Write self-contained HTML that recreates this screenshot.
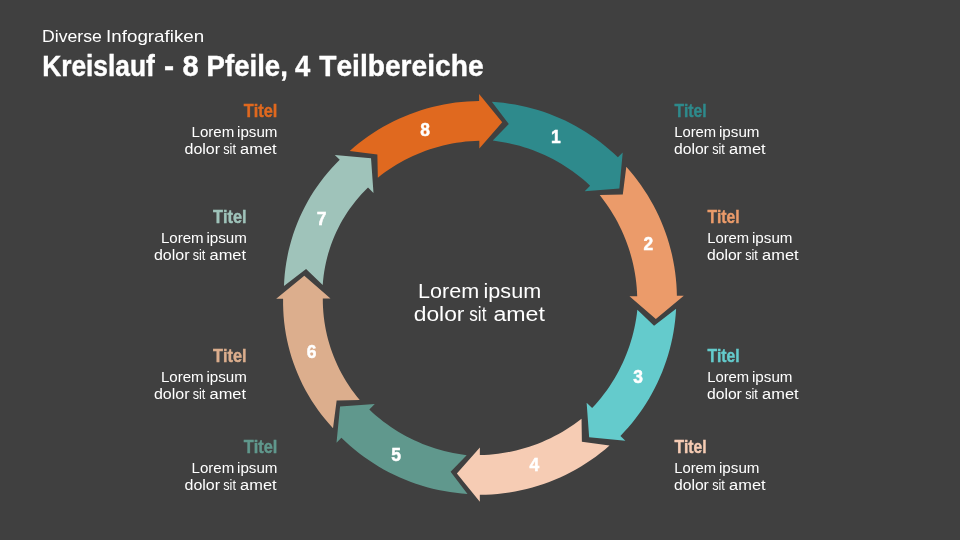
<!DOCTYPE html>
<html lang="de">
<head>
<meta charset="utf-8">
<title>Kreislauf - 8 Pfeile, 4 Teilbereiche</title>
<style>
html,body{margin:0;padding:0;background:#404040;}
body{width:960px;height:540px;overflow:hidden;}
svg{display:block;font-family:'Liberation Sans',sans-serif;will-change:transform;font-kerning:none;}
</style>
</head>
<body>
<svg xmlns="http://www.w3.org/2000/svg" width="960" height="540" viewBox="0 0 960 540">
<rect width="960" height="540" fill="#404040"/>
<path d="M491.82 101.86 L497.66 102.27 L503.49 102.87 L509.29 103.63 L515.08 104.57 L520.83 105.68 L526.54 106.97 L532.22 108.42 L537.85 110.04 L543.43 111.83 L548.96 113.78 L554.43 115.90 L559.83 118.18 L565.16 120.62 L570.42 123.22 L575.59 125.98 L580.69 128.88 L585.69 131.94 L590.60 135.15 L595.42 138.50 L600.13 142.00 L604.74 145.63 L609.24 149.40 L613.62 153.31 L617.89 157.34 L622.72 152.41 L619.37 188.62 L584.69 191.18 L590.09 185.68 L586.73 182.61 L583.30 179.62 L579.79 176.74 L576.21 173.94 L572.55 171.25 L568.83 168.66 L565.03 166.16 L561.18 163.77 L557.26 161.49 L553.28 159.31 L549.24 157.24 L545.15 155.27 L541.01 153.42 L536.81 151.68 L532.57 150.05 L528.29 148.53 L523.97 147.13 L519.61 145.85 L515.21 144.68 L510.78 143.63 L506.32 142.70 L501.83 141.88 L497.32 141.19 L492.79 140.62 L508.79 123.97Z" fill="#2E8A8C"/>
<path d="M626.30 166.87 L630.18 171.30 L633.92 175.85 L637.53 180.51 L641.00 185.27 L644.32 190.14 L647.50 195.11 L650.52 200.17 L653.40 205.31 L656.11 210.55 L658.67 215.86 L661.07 221.25 L663.31 226.71 L665.38 232.23 L667.29 237.81 L669.03 243.45 L670.60 249.14 L671.99 254.87 L673.22 260.65 L674.27 266.46 L675.14 272.30 L675.84 278.16 L676.37 284.04 L676.72 289.93 L676.89 295.84 L683.79 295.77 L655.84 319.02 L629.49 296.33 L637.19 296.25 L636.99 291.68 L636.67 287.12 L636.22 282.57 L635.65 278.03 L634.96 273.51 L634.14 269.02 L633.21 264.55 L632.15 260.10 L630.98 255.69 L629.69 251.31 L628.28 246.97 L626.75 242.67 L625.11 238.41 L623.35 234.19 L621.48 230.02 L619.49 225.90 L617.40 221.84 L615.19 217.83 L612.88 213.88 L610.46 209.99 L607.93 206.17 L605.29 202.41 L602.56 198.72 L599.72 195.10 L622.81 194.52Z" fill="#EB9B6A"/>
<path d="M676.10 308.69 L675.71 314.59 L675.14 320.46 L674.40 326.32 L673.47 332.16 L672.38 337.97 L671.11 343.74 L669.66 349.47 L668.04 355.15 L666.26 360.79 L664.30 366.37 L662.18 371.88 L659.89 377.34 L657.44 382.72 L654.83 388.02 L652.06 393.25 L649.13 398.39 L646.05 403.44 L642.82 408.40 L639.44 413.26 L635.92 418.01 L632.25 422.66 L628.45 427.19 L624.51 431.61 L620.44 435.91 L625.36 440.75 L589.16 437.36 L586.63 402.69 L592.12 408.08 L595.23 404.70 L598.24 401.24 L601.15 397.70 L603.97 394.09 L606.69 390.40 L609.30 386.64 L611.81 382.81 L614.22 378.92 L616.52 374.96 L618.71 370.94 L620.80 366.87 L622.77 362.74 L624.63 358.55 L626.37 354.32 L628.00 350.04 L629.52 345.71 L630.92 341.35 L632.20 336.94 L633.36 332.50 L634.40 328.03 L635.32 323.53 L636.12 319.00 L636.79 314.44 L637.35 309.87 L654.08 325.78Z" fill="#64CBCC"/>
<path d="M609.50 445.56 L605.02 449.40 L600.42 453.10 L595.72 456.66 L590.91 460.09 L586.00 463.36 L581.00 466.49 L575.90 469.46 L570.71 472.28 L565.45 474.95 L560.10 477.45 L554.68 479.80 L549.19 481.98 L543.64 483.99 L538.03 485.84 L532.36 487.52 L526.65 489.02 L520.89 490.36 L515.10 491.52 L509.27 492.51 L503.42 493.32 L497.54 493.95 L491.65 494.41 L485.74 494.70 L479.83 494.80 L479.82 501.70 L456.88 473.48 L479.87 447.40 L479.86 455.10 L484.44 454.95 L489.02 454.68 L493.58 454.28 L498.13 453.76 L502.66 453.12 L507.16 452.35 L511.65 451.47 L516.11 450.46 L520.54 449.34 L524.94 448.09 L529.30 446.73 L533.63 445.24 L537.91 443.65 L542.15 441.93 L546.35 440.10 L550.49 438.16 L554.58 436.11 L558.62 433.94 L562.60 431.66 L566.52 429.28 L570.38 426.79 L574.17 424.19 L577.89 421.50 L581.54 418.69 L581.88 441.79Z" fill="#F6CCB4"/>
<path d="M467.50 493.90 L461.64 493.46 L455.80 492.85 L449.99 492.06 L444.19 491.09 L438.43 489.96 L432.71 488.65 L427.02 487.17 L421.38 485.52 L415.79 483.71 L410.26 481.72 L404.79 479.58 L399.39 477.27 L394.06 474.80 L388.80 472.17 L383.62 469.38 L378.53 466.44 L373.52 463.35 L368.62 460.12 L363.81 456.73 L359.10 453.20 L354.50 449.54 L350.01 445.74 L345.63 441.80 L341.38 437.74 L336.52 442.64 L340.06 406.45 L374.75 404.07 L369.33 409.54 L372.67 412.64 L376.10 415.65 L379.60 418.56 L383.18 421.38 L386.83 424.10 L390.55 426.72 L394.34 429.23 L398.20 431.65 L402.12 433.96 L406.10 436.16 L410.14 438.25 L414.23 440.24 L418.38 442.12 L422.57 443.88 L426.81 445.53 L431.10 447.07 L435.43 448.49 L439.80 449.79 L444.20 450.98 L448.64 452.05 L453.10 453.00 L457.60 453.84 L462.12 454.55 L466.66 455.13 L450.60 471.73Z" fill="#60988D"/>
<path d="M333.02 428.17 L329.05 423.80 L325.21 419.30 L321.53 414.68 L317.99 409.94 L314.60 405.09 L311.37 400.13 L308.29 395.06 L305.39 389.90 L302.64 384.64 L300.07 379.30 L297.67 373.87 L295.45 368.37 L293.40 362.80 L291.53 357.17 L289.85 351.48 L288.35 345.74 L287.03 339.96 L285.90 334.14 L284.96 328.28 L284.21 322.40 L283.65 316.50 L283.28 310.59 L283.09 304.68 L283.10 298.76 L276.20 298.79 L304.30 275.70 L330.50 298.55 L322.80 298.59 L322.85 303.17 L323.03 307.75 L323.34 312.33 L323.80 316.90 L324.38 321.45 L325.10 325.98 L325.95 330.49 L326.94 334.98 L328.06 339.43 L329.30 343.85 L330.68 348.24 L332.19 352.58 L333.82 356.87 L335.58 361.12 L337.47 365.31 L339.48 369.45 L341.61 373.52 L343.86 377.54 L346.22 381.48 L348.70 385.35 L351.30 389.15 L354.00 392.87 L356.82 396.51 L359.74 400.07 L336.65 400.53Z" fill="#DCAE8D"/>
<path d="M283.96 286.08 L284.25 280.21 L284.73 274.35 L285.40 268.50 L286.25 262.68 L287.29 256.88 L288.51 251.11 L289.91 245.39 L291.50 239.71 L293.27 234.08 L295.21 228.51 L297.34 223.00 L299.63 217.56 L302.10 212.19 L304.74 206.91 L307.55 201.72 L310.51 196.61 L313.64 191.61 L316.93 186.70 L320.37 181.91 L323.96 177.22 L327.69 172.66 L331.57 168.22 L335.58 163.90 L339.73 159.72 L334.81 154.88 L371.02 158.31 L373.50 192.98 L368.01 187.58 L364.77 190.80 L361.62 194.11 L358.58 197.52 L355.64 201.03 L352.81 204.63 L350.09 208.32 L347.49 212.09 L345.00 215.94 L342.63 219.86 L340.38 223.86 L338.26 227.93 L336.26 232.06 L334.39 236.25 L332.65 240.50 L331.04 244.80 L329.57 249.15 L328.23 253.54 L327.03 257.97 L325.96 262.43 L325.03 266.92 L324.24 271.44 L323.59 275.98 L323.09 280.54 L322.72 285.11 L306.07 269.11Z" fill="#9FC3BA"/>
<path d="M349.73 150.92 L354.19 147.06 L358.77 143.33 L363.45 139.74 L368.24 136.30 L373.13 133.00 L378.12 129.84 L383.20 126.84 L388.37 123.99 L393.63 121.30 L398.96 118.77 L404.37 116.40 L409.85 114.19 L415.39 112.15 L420.99 110.27 L426.65 108.56 L432.35 107.02 L438.10 105.66 L443.89 104.47 L449.71 103.45 L455.56 102.61 L461.43 101.94 L467.32 101.45 L473.23 101.14 L479.14 101.00 L479.11 94.10 L502.20 122.20 L479.35 148.40 L479.31 140.70 L474.73 140.88 L470.16 141.17 L465.60 141.59 L461.06 142.14 L456.53 142.80 L452.03 143.59 L447.55 144.50 L443.09 145.53 L438.67 146.68 L434.27 147.95 L429.92 149.33 L425.60 150.84 L421.32 152.46 L417.09 154.20 L412.91 156.05 L408.77 158.01 L404.69 160.09 L400.67 162.27 L396.70 164.57 L392.79 166.97 L388.95 169.48 L385.17 172.10 L381.47 174.82 L377.83 177.64 L377.37 154.55Z" fill="#E0691F"/>
<text x="550.95" y="143.00" font-size="18.6" font-weight="bold" fill="#fff" stroke="#fff" stroke-width="0.5" textLength="9.7" lengthAdjust="spacingAndGlyphs">1</text>
<text x="643.55" y="250.00" font-size="18.6" font-weight="bold" fill="#fff" stroke="#fff" stroke-width="0.5" textLength="9.7" lengthAdjust="spacingAndGlyphs">2</text>
<text x="633.25" y="383.00" font-size="18.6" font-weight="bold" fill="#fff" stroke="#fff" stroke-width="0.5" textLength="9.7" lengthAdjust="spacingAndGlyphs">3</text>
<text x="529.45" y="471.00" font-size="18.6" font-weight="bold" fill="#fff" stroke="#fff" stroke-width="0.5" textLength="9.7" lengthAdjust="spacingAndGlyphs">4</text>
<text x="391.25" y="461.00" font-size="18.6" font-weight="bold" fill="#fff" stroke="#fff" stroke-width="0.5" textLength="9.7" lengthAdjust="spacingAndGlyphs">5</text>
<text x="306.65" y="358.00" font-size="18.6" font-weight="bold" fill="#fff" stroke="#fff" stroke-width="0.5" textLength="9.7" lengthAdjust="spacingAndGlyphs">6</text>
<text x="316.65" y="225.00" font-size="18.6" font-weight="bold" fill="#fff" stroke="#fff" stroke-width="0.5" textLength="9.7" lengthAdjust="spacingAndGlyphs">7</text>
<text x="420.15" y="136.00" font-size="18.6" font-weight="bold" fill="#fff" stroke="#fff" stroke-width="0.5" textLength="9.7" lengthAdjust="spacingAndGlyphs">8</text>
<text y="42.00" font-size="17.0" font-weight="normal" fill="#fff"><tspan x="42.05" textLength="59.83" lengthAdjust="spacingAndGlyphs">Diverse</tspan> <tspan x="106.07" textLength="98.15" lengthAdjust="spacingAndGlyphs">Infografiken</tspan></text>
<text y="76.00" font-size="29" font-weight="bold" fill="#fff" stroke="#fff" stroke-width="0.4"><tspan x="42.14" textLength="112.71" lengthAdjust="spacingAndGlyphs">Kreislauf</tspan> <tspan x="164.12" textLength="10.10" lengthAdjust="spacingAndGlyphs">-</tspan> <tspan x="182.48" textLength="16.11" lengthAdjust="spacingAndGlyphs">8</tspan> <tspan x="206.55" textLength="81.29" lengthAdjust="spacingAndGlyphs">Pfeile,</tspan> <tspan x="294.88" textLength="15.26" lengthAdjust="spacingAndGlyphs">4</tspan> <tspan x="319.28" textLength="164.28" lengthAdjust="spacingAndGlyphs">Teilbereiche</tspan></text>
<text y="298.00" font-size="20" font-weight="normal" fill="#fff"><tspan x="418.03" textLength="61.09" lengthAdjust="spacingAndGlyphs">Lorem</tspan> <tspan x="483.56" textLength="57.57" lengthAdjust="spacingAndGlyphs">ipsum</tspan></text>
<text y="321.00" font-size="20" font-weight="normal" fill="#fff"><tspan x="413.74" textLength="50.74" lengthAdjust="spacingAndGlyphs">dolor</tspan> <tspan x="469.32" textLength="17.10" lengthAdjust="spacingAndGlyphs">sit</tspan> <tspan x="493.41" textLength="51.55" lengthAdjust="spacingAndGlyphs">amet</tspan></text>
<text y="117.00" font-size="17.6" font-weight="bold" fill="#E0691F" stroke="#E0691F" stroke-width="0.4"><tspan x="243.72" textLength="33.54" lengthAdjust="spacingAndGlyphs">Titel</tspan></text>
<text y="137.00" font-size="14" font-weight="normal" fill="#fff"><tspan x="191.56" textLength="42.73" lengthAdjust="spacingAndGlyphs">Lorem</tspan> <tspan x="237.09" textLength="40.41" lengthAdjust="spacingAndGlyphs">ipsum</tspan></text>
<text y="154.00" font-size="14" font-weight="normal" fill="#fff"><tspan x="184.53" textLength="35.54" lengthAdjust="spacingAndGlyphs">dolor</tspan> <tspan x="223.25" textLength="12.64" lengthAdjust="spacingAndGlyphs">sit</tspan> <tspan x="240.10" textLength="36.52" lengthAdjust="spacingAndGlyphs">amet</tspan></text>
<text y="223.00" font-size="17.6" font-weight="bold" fill="#9FC3BA" stroke="#9FC3BA" stroke-width="0.4"><tspan x="213.12" textLength="33.54" lengthAdjust="spacingAndGlyphs">Titel</tspan></text>
<text y="243.00" font-size="14" font-weight="normal" fill="#fff"><tspan x="160.96" textLength="42.73" lengthAdjust="spacingAndGlyphs">Lorem</tspan> <tspan x="206.49" textLength="40.41" lengthAdjust="spacingAndGlyphs">ipsum</tspan></text>
<text y="260.00" font-size="14" font-weight="normal" fill="#fff"><tspan x="153.93" textLength="35.54" lengthAdjust="spacingAndGlyphs">dolor</tspan> <tspan x="192.65" textLength="12.64" lengthAdjust="spacingAndGlyphs">sit</tspan> <tspan x="209.50" textLength="36.52" lengthAdjust="spacingAndGlyphs">amet</tspan></text>
<text y="362.00" font-size="17.6" font-weight="bold" fill="#DCAE8D" stroke="#DCAE8D" stroke-width="0.4"><tspan x="213.12" textLength="33.54" lengthAdjust="spacingAndGlyphs">Titel</tspan></text>
<text y="382.00" font-size="14" font-weight="normal" fill="#fff"><tspan x="160.96" textLength="42.73" lengthAdjust="spacingAndGlyphs">Lorem</tspan> <tspan x="206.49" textLength="40.41" lengthAdjust="spacingAndGlyphs">ipsum</tspan></text>
<text y="399.00" font-size="14" font-weight="normal" fill="#fff"><tspan x="153.93" textLength="35.54" lengthAdjust="spacingAndGlyphs">dolor</tspan> <tspan x="192.65" textLength="12.64" lengthAdjust="spacingAndGlyphs">sit</tspan> <tspan x="209.50" textLength="36.52" lengthAdjust="spacingAndGlyphs">amet</tspan></text>
<text y="453.00" font-size="17.6" font-weight="bold" fill="#60988D" stroke="#60988D" stroke-width="0.4"><tspan x="243.72" textLength="33.54" lengthAdjust="spacingAndGlyphs">Titel</tspan></text>
<text y="473.00" font-size="14" font-weight="normal" fill="#fff"><tspan x="191.56" textLength="42.73" lengthAdjust="spacingAndGlyphs">Lorem</tspan> <tspan x="237.09" textLength="40.41" lengthAdjust="spacingAndGlyphs">ipsum</tspan></text>
<text y="490.00" font-size="14" font-weight="normal" fill="#fff"><tspan x="184.53" textLength="35.54" lengthAdjust="spacingAndGlyphs">dolor</tspan> <tspan x="223.25" textLength="12.64" lengthAdjust="spacingAndGlyphs">sit</tspan> <tspan x="240.10" textLength="36.52" lengthAdjust="spacingAndGlyphs">amet</tspan></text>
<text y="117.00" font-size="17.6" font-weight="bold" fill="#2E8A8C" stroke="#2E8A8C" stroke-width="0.4"><tspan x="674.42" textLength="32.18" lengthAdjust="spacingAndGlyphs">Titel</tspan></text>
<text y="137.00" font-size="14" font-weight="normal" fill="#fff"><tspan x="674.18" textLength="41.99" lengthAdjust="spacingAndGlyphs">Lorem</tspan> <tspan x="718.98" textLength="40.52" lengthAdjust="spacingAndGlyphs">ipsum</tspan></text>
<text y="154.00" font-size="14" font-weight="normal" fill="#fff"><tspan x="673.94" textLength="34.92" lengthAdjust="spacingAndGlyphs">dolor</tspan> <tspan x="712.15" textLength="12.64" lengthAdjust="spacingAndGlyphs">sit</tspan> <tspan x="729.10" textLength="36.52" lengthAdjust="spacingAndGlyphs">amet</tspan></text>
<text y="223.00" font-size="17.6" font-weight="bold" fill="#EB9B6A" stroke="#EB9B6A" stroke-width="0.4"><tspan x="707.42" textLength="32.18" lengthAdjust="spacingAndGlyphs">Titel</tspan></text>
<text y="243.00" font-size="14" font-weight="normal" fill="#fff"><tspan x="707.18" textLength="41.99" lengthAdjust="spacingAndGlyphs">Lorem</tspan> <tspan x="751.98" textLength="40.52" lengthAdjust="spacingAndGlyphs">ipsum</tspan></text>
<text y="260.00" font-size="14" font-weight="normal" fill="#fff"><tspan x="706.94" textLength="34.92" lengthAdjust="spacingAndGlyphs">dolor</tspan> <tspan x="745.15" textLength="12.64" lengthAdjust="spacingAndGlyphs">sit</tspan> <tspan x="762.10" textLength="36.52" lengthAdjust="spacingAndGlyphs">amet</tspan></text>
<text y="362.00" font-size="17.6" font-weight="bold" fill="#64CBCC" stroke="#64CBCC" stroke-width="0.4"><tspan x="707.42" textLength="32.18" lengthAdjust="spacingAndGlyphs">Titel</tspan></text>
<text y="382.00" font-size="14" font-weight="normal" fill="#fff"><tspan x="707.18" textLength="41.99" lengthAdjust="spacingAndGlyphs">Lorem</tspan> <tspan x="751.98" textLength="40.52" lengthAdjust="spacingAndGlyphs">ipsum</tspan></text>
<text y="399.00" font-size="14" font-weight="normal" fill="#fff"><tspan x="706.94" textLength="34.92" lengthAdjust="spacingAndGlyphs">dolor</tspan> <tspan x="745.15" textLength="12.64" lengthAdjust="spacingAndGlyphs">sit</tspan> <tspan x="762.10" textLength="36.52" lengthAdjust="spacingAndGlyphs">amet</tspan></text>
<text y="453.00" font-size="17.6" font-weight="bold" fill="#F6CCB4" stroke="#F6CCB4" stroke-width="0.4"><tspan x="674.42" textLength="32.18" lengthAdjust="spacingAndGlyphs">Titel</tspan></text>
<text y="473.00" font-size="14" font-weight="normal" fill="#fff"><tspan x="674.18" textLength="41.99" lengthAdjust="spacingAndGlyphs">Lorem</tspan> <tspan x="718.98" textLength="40.52" lengthAdjust="spacingAndGlyphs">ipsum</tspan></text>
<text y="490.00" font-size="14" font-weight="normal" fill="#fff"><tspan x="673.94" textLength="34.92" lengthAdjust="spacingAndGlyphs">dolor</tspan> <tspan x="712.15" textLength="12.64" lengthAdjust="spacingAndGlyphs">sit</tspan> <tspan x="729.10" textLength="36.52" lengthAdjust="spacingAndGlyphs">amet</tspan></text>
</svg>
</body>
</html>
